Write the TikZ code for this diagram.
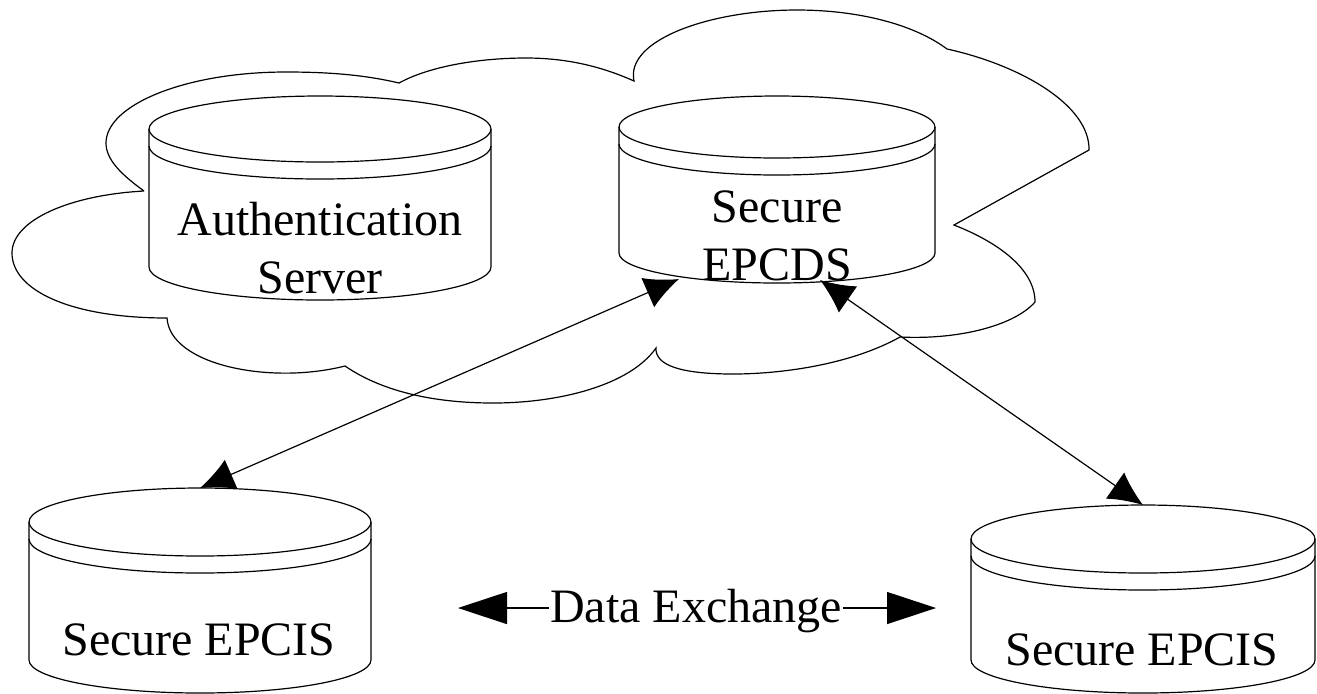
\documentclass[tikz,border=0pt]{standalone}
\usepackage{fontspec}
\setmainfont{Liberation Serif}
\usetikzlibrary{arrows.meta}
\usetikzlibrary{positioning}

\begin{document}
\begin{tikzpicture}[x=0.5pt,y=-0.5pt,line width=0.6pt,
    dbbody/.style = {rectangle, inner sep=0pt, outer sep=0pt},
    dbtext/.style = {inner sep=0pt, anchor=base, align=center, font=\fontsize{24}{29}\selectfont},
    link/.style = {{Latex[length=17pt,width=16pt]}-{Latex[length=17pt,width=16pt]}},
    bigtip/.style = {-{Triangle[length=24.5pt,width=16pt]}}]
    \useasboundingbox (0,0) rectangle (1317,693);
    % the cloud
    \draw (144,191) .. controls (122,175) and (106,160) .. (106,143)
        .. controls (106,105) and (185,72) .. (286,72)
        .. controls (330,72) and (365,75) .. (399,83)
        .. controls (430,66) and (480,58) .. (526,58)
        .. controls (570,58) and (605,68) .. (634,81)
        .. controls (625,40) and (710,10) .. (797,10)
        .. controls (860,10) and (915,25) .. (947,49)
        .. controls (1020,65) and (1090,105) .. (1089,150)
        -- (954,225)
        .. controls (1000,243) and (1035,270) .. (1035,302)
        .. controls (1015,325) and (960,340) .. (900,337)
        .. controls (850,365) and (780,374) .. (733,374)
        .. controls (680,374) and (655,365) .. (656,348)
        .. controls (630,385) and (560,403) .. (493,403)
        .. controls (430,403) and (380,390) .. (345,366)
        .. controls (270,385) and (170,365) .. (167,318)
        .. controls (70,318) and (12,290) .. (12,253)
        .. controls (12,220) and (70,195) .. (144,191);
    % the four cylinders
    \foreach \name/\cx/\hw/\ytop/\ycap/\yside/\ybot in {auth/320/171/96/129/267/300,
        epcds/777/158/96/127/253/283,
        epcisleft/200/171/488/522/660/693,
        epcisright/1143/172/505/539/660/693}
    {
        \pgfmathsetmacro{\rx}{\hw/2}
        \pgfmathsetmacro{\rcap}{(\ycap-\ytop)/2}
        \pgfmathsetmacro{\rbot}{(\ybot-\yside)/2}
        \pgfmathsetmacro{\bodyh}{(\ybot-\ytop)/2}
        \pgfmathsetmacro{\bodyw}{\hw}
        \pgfmathsetmacro{\ymid}{(\ybot+\ytop)/2}
        \node [dbbody, minimum width=\bodyw pt, minimum height=\bodyh pt] (\name) at (\cx,\ymid) {};
        \draw (\cx-\hw,\ycap) -- (\cx-\hw,\yside)
            arc[start angle=180, end angle=360, x radius=\rx pt, y radius=\rbot pt]
            -- (\cx+\hw,\ycap);
        \draw (\cx,\ycap) ellipse [x radius=\rx pt, y radius=\rcap pt];
        \draw (\cx-\hw,\ycap+17) arc[start angle=180, end angle=360, x radius=\rx pt, y radius=\rcap pt];
    }
    \node [dbtext] (authlabel) at (320,235) {Authentication};
    \node [dbtext] (authlabeltwo) at (320,293) {Server};
    \node [dbtext] (epcdslabel) at (777,222) {Secure};
    \node [dbtext] (epcdslabeltwo) at (777,280) {EPCDS};
    \node [dbtext] (leftlabel) at (199,655) {Secure EPCIS};
    \node [dbtext] (rightlabel) at (1142,665) {Secure EPCIS};
    \node [dbtext] (exchange) at (696,622) {Data Exchange};
    % links
    \draw [link] (epcisleft.north) -- ([shift={(-98,-4)}]epcds.south);
    \draw [link] (epcisright.north) -- ([shift={(43,-3)}]epcds.south);
    \draw [bigtip] (exchange.west |- 0,608) -- (458,608);
    \draw [bigtip] (exchange.east |- 0,608) -- (936,608);
\end{tikzpicture}
\end{document}
